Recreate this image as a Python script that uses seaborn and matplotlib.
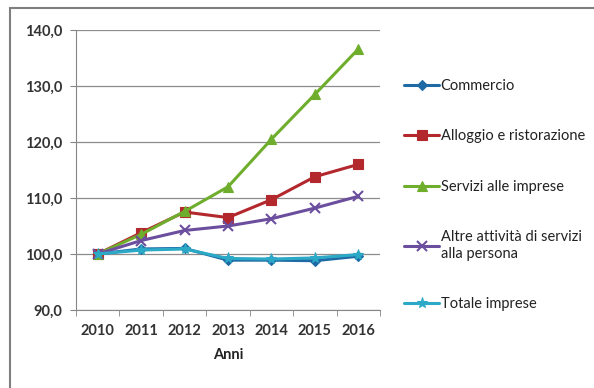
import matplotlib
matplotlib.use("Agg")
import matplotlib.pyplot as plt
import seaborn as sns
import pandas as pd
from matplotlib.patches import Rectangle

years = ["2010", "2011", "2012", "2013", "2014", "2015", "2016"]
commercio = [100.0, 100.9, 101.0, 98.9, 98.9, 98.8, 99.6]
alloggio = [100.0, 103.8, 107.5, 106.5, 109.7, 113.8, 116.0]
servizi_imprese = [100.0, 103.5, 107.6, 112.0, 120.5, 128.5, 136.6]
altre_attivita = [100.0, 102.4, 104.2, 105.0, 106.3, 108.2, 110.3]
totale_imprese = [100.0, 100.7, 100.9, 99.2, 99.1, 99.3, 99.9]

series_names = ["Commercio", "Alloggio e ristorazione", "Servizi alle imprese",
                "Altre attività di servizi\nalla persona", "Totale imprese"]
series_values = [commercio, alloggio, servizi_imprese, altre_attivita, totale_imprese]
colors = ["#1d6aa5", "#b3282d", "#6fae2c", "#6b4f9e", "#2ca9c6"]
markers = ["D", "s", "^", "x", "*"]
msizes = [5, 7, 7, 7, 8]

sns.set_style("white")
plt.rcParams["font.family"] = ["Lato", "DejaVu Sans"]
FS = 10.5

fig = plt.figure(figsize=(5.94, 3.88), dpi=100)
fig.patches.append(Rectangle((10 / 594, -0.05), 1.2, 1 - 8 / 388 + 0.05,
                             transform=fig.transFigure, fill=False,
                             edgecolor="#7f7f7f", linewidth=1.5))
ax = fig.add_axes([76 / 594, 1 - 310 / 388, (380 - 76) / 594, (310 - 30) / 388])

rows = []
for name, vals in zip(series_names, series_values):
    for i, v in enumerate(vals):
        rows.append({"serie": name, "x": i, "valore": v})
df = pd.DataFrame(rows)

for name, col, mk, ms in zip(series_names, colors, markers, msizes):
    sub = df[df["serie"] == name]
    sns.lineplot(data=sub, x="x", y="valore", ax=ax, color=col, marker=mk,
                 markersize=ms, linewidth=2.2, label=name,
                 markeredgecolor=col, markeredgewidth=1.5 if mk == "x" else 0.8)

ax.set_xlim(-0.5, len(years) - 0.5)
ax.set_ylim(90, 140)
ax.set_yticks([90, 100, 110, 120, 130, 140])
ax.set_yticklabels([f"{v:.1f}".replace(".", ",") for v in [90, 100, 110, 120, 130, 140]])
ax.set_xticks(range(len(years)))
ax.set_xticklabels(years)
ax.set_xticks([i - 0.5 for i in range(len(years) + 1)], minor=True)
ax.tick_params(axis="x", which="major", length=0, labelsize=FS, pad=10, colors="#333333")
ax.tick_params(axis="x", which="minor", length=4, direction="out", color="#868686", bottom=True)
ax.tick_params(axis="y", length=4, direction="out", color="#868686", labelsize=FS,
               colors="#333333", left=True, pad=6)
for lab in ax.get_xticklabels() + ax.get_yticklabels():
    lab.set_fontweight("bold")
ax.grid(axis="y", color="#8c8c8c", linewidth=0.9)
ax.set_axisbelow(True)
for s in ["top", "right"]:
    ax.spines[s].set_visible(False)
ax.spines["left"].set_color("#868686")
ax.spines["bottom"].set_color("#868686")
ax.set_xlabel("Anni", fontsize=FS, fontweight="bold", color="#222222", labelpad=7)
ax.set_ylabel("")

leg = ax.legend(loc="upper left", bbox_to_anchor=(1.06, 0.846), frameon=False,
                fontsize=FS, labelspacing=2.5, handlelength=2.4, handletextpad=0.1,
                borderaxespad=0)
for t in leg.get_texts():
    t.set_color("#222222")

fig.savefig("out.png", dpi=100)
